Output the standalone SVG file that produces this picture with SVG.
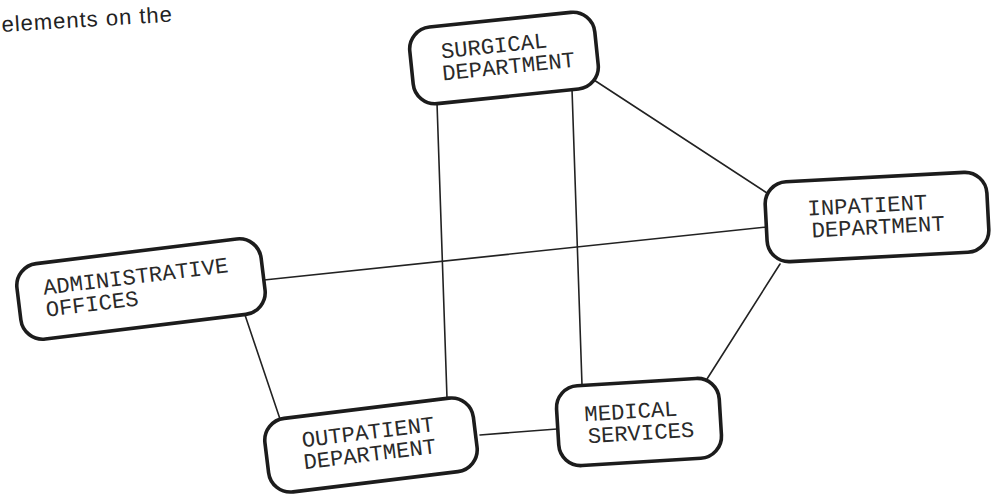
<svg xmlns="http://www.w3.org/2000/svg" width="999" height="494" viewBox="0 0 999 494">
  <style>
    .box { fill: #ffffff; stroke: #1c1c1c; stroke-width: 3.6; }
    .lbl { font-family: "Liberation Mono", "Courier New", monospace; font-size: 22.2px; fill: #2a2a2a; }
    .conn { stroke: #222222; stroke-width: 1.6; fill: none; stroke-linecap: round; }
    .cap { font-family: "Liberation Sans", Arial, sans-serif; font-size: 22px; fill: #222222; letter-spacing: 1px; }
  </style>
  <rect x="0" y="0" width="999" height="494" fill="#ffffff"/>

  <text class="cap" transform="translate(2,32) rotate(-3.5)">elements on the</text>

  <g id="connectors">
    <line class="conn" x1="437" y1="103" x2="447" y2="398"/>
    <line class="conn" x1="572" y1="89" x2="582" y2="385"/>
    <line class="conn" x1="594" y1="80" x2="770" y2="195"/>
    <line class="conn" x1="264" y1="280" x2="767" y2="227"/>
    <line class="conn" x1="245" y1="315" x2="280" y2="419"/>
    <line class="conn" x1="480" y1="435" x2="557" y2="429"/>
    <line class="conn" x1="707" y1="379" x2="780" y2="264"/>
  </g>

  <g id="surgical" transform="translate(504,58) rotate(-5.9)">
    <rect class="box" x="-93" y="-38.5" width="186" height="77" rx="22" ry="22"/>
    <text class="lbl" x="-62" y="-6">SURGICAL</text>
    <text class="lbl" x="-63" y="16">DEPARTMENT</text>
  </g>

  <g id="inpatient" transform="translate(877,217) rotate(-3)">
    <rect class="box" x="-111" y="-40" width="222" height="80" rx="22" ry="22"/>
    <text class="lbl" x="-69" y="-5">INPATIENT</text>
    <text class="lbl" x="-66" y="17">DEPARTMENT</text>
  </g>

  <g id="administrative" transform="translate(141,289) rotate(-7)">
    <rect class="box" x="-123" y="-38" width="246" height="76" rx="22" ry="22"/>
    <text class="lbl" x="-97" y="-6">ADMINISTRATIVE</text>
    <text class="lbl" x="-97" y="16">OFFICES</text>
  </g>

  <g id="outpatient" transform="translate(371,445) rotate(-7)">
    <rect class="box" x="-105" y="-37" width="210" height="74" rx="22" ry="22"/>
    <text class="lbl" x="-68" y="-6">OUTPATIENT</text>
    <text class="lbl" x="-69" y="16">DEPARTMENT</text>
  </g>

  <g id="medical" transform="translate(639,422) rotate(-3.5)">
    <rect class="box" x="-81.5" y="-40" width="163" height="80" rx="22" ry="22"/>
    <text class="lbl" x="-54" y="-4">MEDICAL</text>
    <text class="lbl" x="-52" y="18">SERVICES</text>
  </g>
</svg>
